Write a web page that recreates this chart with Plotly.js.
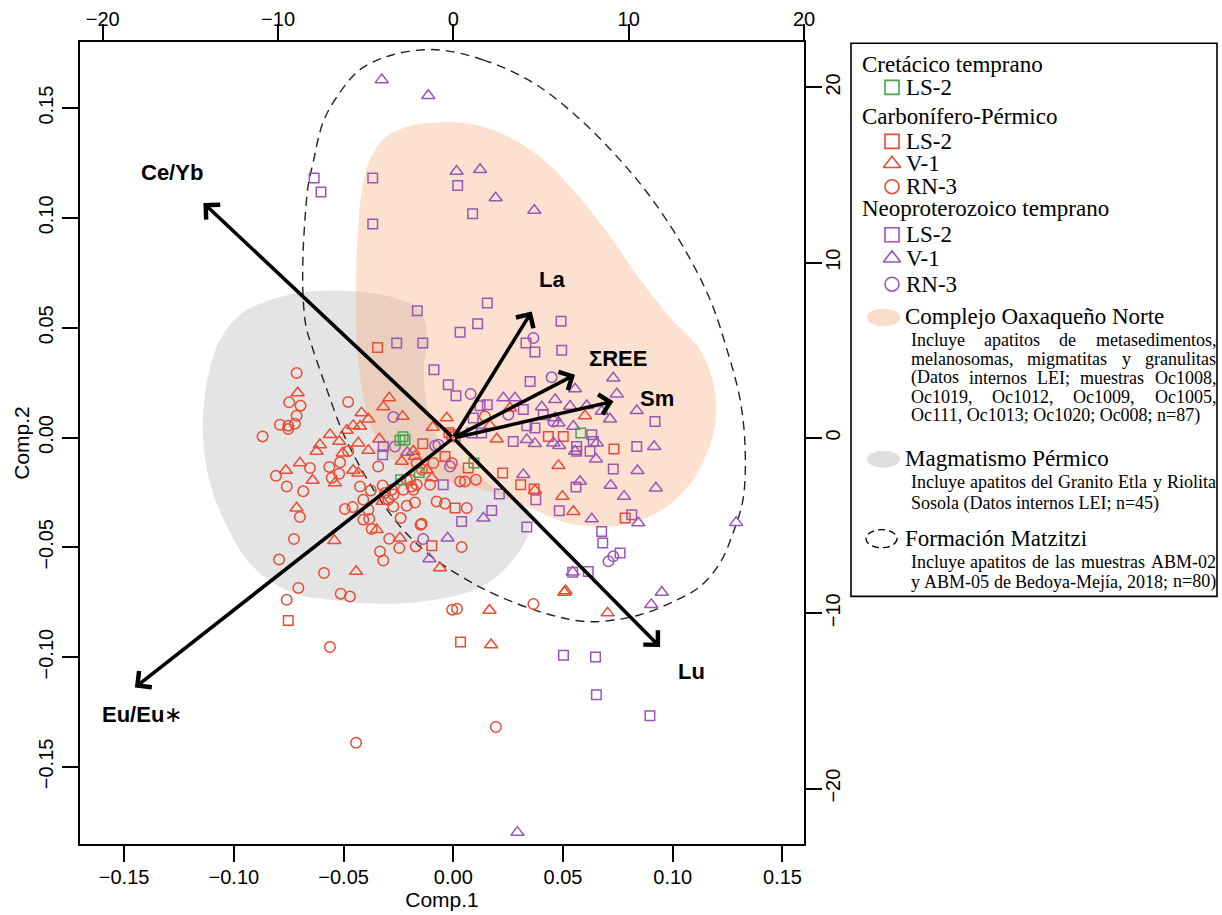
<!DOCTYPE html>
<html><head><meta charset="utf-8">
<script src="https://cdn.plot.ly/plotly-3.0.1.min.js"></script>
<style>html,body{margin:0;padding:0;background:#fff;}#chart{width:1222px;height:915px;}</style>
</head><body><div id="chart"></div>
<script>
// ---------------- DATA (scores on Comp.1 / Comp.2) ----------------
const cretLS2X = [-0.0243,-0.0220,-0.0229,-0.0240,-0.0155,0.0094,0.0581];
const cretLS2Y = [-0.0013,-0.0010,0.0004,-0.0192,-0.0159,-0.0116,0.0020];

const carbLS2X = [-0.0345,-0.0007,0.0008,-0.0020,-0.0139,0.0433,0.0501,0.0732,0.0225,0.0307,0.0368,0.0783,-0.0098,-0.0038,0.0068,0.0008,-0.0752,0.0033];
const carbLS2Y = [0.0410,0.0013,0.0004,0.0022,-0.0028,0.0005,0.0005,-0.0052,-0.0162,-0.0215,-0.0235,-0.0367,-0.0493,-0.0086,-0.0139,-0.0321,-0.0833,-0.0931];

const carbV1X = [-0.0709,-0.0418,-0.0387,-0.0456,-0.0425,-0.0486,-0.0562,-0.0520,-0.0433,-0.0387,-0.0608,-0.0623,-0.0504,-0.0292,-0.0319,-0.0231,-0.0094,-0.0337,-0.0182,-0.0235,-0.0699,-0.0763,-0.0641,-0.0539,-0.0456,-0.0433,-0.0098,-0.0121,-0.0714,-0.0322,-0.0349,-0.0243,-0.0542,-0.0443,-0.0061,0.0258,-0.0030,0.0167,0.0198,0.0600,0.0479,0.0497,0.0372,0.0547,0.0506,0.0511,0.0165,0.0703,0.0172,-0.0175];
const carbV1Y = [0.0203,0.0112,0.0084,0.0054,0.0051,0.0032,0.0013,-0.0018,-0.0025,-0.0059,-0.0033,-0.0063,-0.0071,0.0180,0.0139,0.0096,0.0046,-0.0007,-0.0063,-0.0109,-0.0116,-0.0150,-0.0195,-0.0207,-0.0150,-0.0162,-0.0184,-0.0147,-0.0321,-0.0291,-0.0420,-0.0458,-0.0469,-0.0610,-0.0594,0.0134,0.0089,0.0054,-0.0007,0.0099,-0.0128,-0.0268,-0.0241,-0.0337,-0.0705,-0.0698,-0.0787,-0.0799,-0.0944,-0.0086];

const carbRN3X = [-0.0714,-0.0748,-0.0696,-0.0714,-0.0790,-0.0752,-0.0722,-0.0752,-0.0869,-0.0479,
 -0.0479,-0.0167,-0.0516,-0.0565,-0.0653,-0.0554,-0.0520,-0.0342,-0.0808,-0.0759,
 -0.0684,-0.0425,-0.0376,-0.0322,-0.0281,-0.0212,-0.0190,-0.0167,-0.0182,-0.0228,
 -0.0273,-0.0296,-0.0311,-0.0091,-0.0410,-0.0273,-0.0212,-0.0175,-0.0494,-0.0459,
 -0.0387,-0.0410,-0.0383,-0.0699,-0.0240,-0.0144,-0.0372,-0.0292,-0.0246,-0.0171,
 -0.0726,-0.0334,-0.0319,-0.0794,-0.0589,-0.0706,-0.0513,-0.0471,-0.0759,-0.0562,
 -0.0005,0.0017,0.0365,0.0194,-0.0443,0.0144,0.0038,-0.0149,-0.0007,0.0031,
 0.0053,0.0103,-0.0076,-0.0038,0.0061,-0.0197,-0.0143,-0.0106];
const carbRN3Y = [0.0294,0.0160,0.0145,0.0099,0.0058,0.0054,0.0063,0.0039,0.0005,0.0162,
 -0.0063,-0.0116,-0.0113,-0.0134,-0.0139,-0.0184,-0.0165,-0.0132,-0.0174,-0.0223,
 -0.0245,-0.0223,-0.0241,-0.0219,-0.0238,-0.0192,-0.0223,-0.0215,-0.0238,-0.0238,
 -0.0260,-0.0283,-0.0253,-0.0116,-0.0283,-0.0314,-0.0311,-0.0296,-0.0326,-0.0317,
 -0.0329,-0.0374,-0.0371,-0.0362,-0.0367,-0.0393,-0.0417,-0.0461,-0.0503,-0.0496,
 -0.0462,-0.0519,-0.0560,-0.0556,-0.0617,-0.0685,-0.0711,-0.0724,-0.0739,-0.0954,
 -0.0784,-0.0780,-0.0758,-0.1318,-0.1390,0.0096,-0.0499,-0.0397,-0.0116,-0.0200,
 -0.0200,-0.0192,-0.0291,-0.0301,-0.0321,-0.0192,-0.0147,-0.0215];

const neoLS2X = [-0.0634,-0.0603,-0.0367,-0.0367,-0.0164,-0.0258,-0.0139,-0.0088,0.0020,0.0088,
 0.0155,0.0111,0.0031,0.0491,0.0331,0.0372,0.0494,-0.0023,0.0012,0.0350,
 0.0919,0.0155,0.0122,0.0319,0.0410,0.0091,0.0335,0.0372,0.0084,0.0129,
 0.0273,0.0631,0.0638,0.0562,0.0562,0.0623,0.0836,0.0729,0.0559,0.0376,
 0.0210,0.0483,0.0813,0.0676,0.0681,0.0760,0.0544,0.0615,0.0335,0.0175,
 0.0038,-0.0046,-0.0319,-0.0322,0.0502,0.0648,0.0652,0.0896];
const neoLS2Y = [0.1182,0.1118,0.1182,0.0972,0.0577,0.0430,0.0430,0.0309,0.1147,0.1019,
 0.0613,0.0518,0.0479,0.0529,0.0430,0.0389,0.0397,0.0240,0.0190,0.0255,
 0.0073,0.0149,0.0145,0.0127,0.0104,0.0089,0.0054,0.0043,0.0020,0.0020,
 -0.0018,0.0013,-0.0018,-0.0041,-0.0063,-0.0063,-0.0041,-0.0143,-0.0225,-0.0283,
 -0.0257,-0.0333,-0.0352,-0.0428,-0.0480,-0.0526,-0.0613,-0.0610,-0.0408,-0.0332,
 -0.0382,-0.0215,-0.0041,-0.0078,-0.0992,-0.1000,-0.1171,-0.1267];

const neoV1X = [-0.0326,-0.0114,0.0015,0.0122,0.0193,0.0369,0.0729,0.0555,0.0745,0.0228,
 0.0281,0.0464,0.0532,0.0608,0.0836,0.0403,0.0464,0.0479,0.0676,0.0714,
 0.0335,0.0372,0.0456,0.0483,0.0547,0.0654,0.0555,0.0650,0.0915,0.0839,
 0.0923,0.0717,0.0778,0.0577,0.0319,0.0631,0.0843,0.1289,0.0544,0.0950,
 0.0137,-0.0026,-0.0109,-0.0210,0.0902,0.0292];
const neoV1Y = [0.1629,0.1557,0.1212,0.1220,0.1091,0.1034,0.0271,0.0221,0.0198,0.0180,
 0.0180,0.0172,0.0142,0.0145,0.0122,0.0139,0.0089,0.0066,0.0119,0.0084,
 -0.0010,-0.0028,-0.0025,-0.0037,0.0051,-0.0025,-0.0063,-0.0098,-0.0041,-0.0151,
 -0.0230,-0.0218,-0.0268,-0.0200,-0.0169,-0.0371,-0.0389,-0.0387,-0.0613,-0.0705,
 -0.0367,-0.0458,-0.0553,-0.0068,-0.0761,-0.1798];

const neoRN3X = [0.0365,0.0079,0.0448,0.0251,0.0456,-0.0273,-0.0083,-0.0266,-0.0015,-0.0137,0.0729,0.0707,-0.0068];
const neoRN3Y = [0.0453,0.0198,0.0274,0.0104,0.0073,0.0093,-0.0037,-0.0041,-0.0132,-0.0462,-0.0541,-0.0564,-0.0033];

// reference fields (outlines, Comp.1 / Comp.2 units)
const oaxX = [-0.0061,0.0076,0.0213,0.0395,0.0546,0.0701,0.0851,0.0988,0.1124,0.1184,0.1197,0.1170,0.1093,0.0974,0.0819,0.0669,0.0518,0.0336,0.0167,-0.0061,-0.0220,-0.0311,-0.0371,-0.0407,-0.0434,-0.0443,-0.0443,-0.0434,-0.0416,-0.0380,-0.0311,-0.0197];
const oaxY = [0.1434,0.1429,0.1388,0.1279,0.1128,0.0933,0.0719,0.0546,0.0400,0.0250,0.0095,-0.0033,-0.0192,-0.0315,-0.0388,-0.0406,-0.0388,-0.0315,-0.0247,-0.0192,-0.0138,-0.0065,0.0036,0.0172,0.0354,0.0536,0.0719,0.0946,0.1128,0.1265,0.1365,0.1420];

const permX = [-0.0548,-0.0380,-0.0243,-0.0152,-0.0120,-0.0134,-0.0115,-0.0038,0.0167,0.0340,0.0340,0.0272,0.0181,0.0062,-0.0152,-0.0334,-0.0562,-0.0731,-0.0913,-0.1031,-0.1109,-0.1141,-0.1123,-0.1063,-0.0972,-0.0858,-0.0699];
const permY = [0.0668,0.0659,0.0628,0.0582,0.0468,0.0309,0.0127,-0.0056,-0.0215,-0.0329,-0.0443,-0.0556,-0.0648,-0.0707,-0.0748,-0.0757,-0.0739,-0.0707,-0.0588,-0.0406,-0.0206,0.0022,0.0250,0.0445,0.0559,0.0618,0.0659];

const matzX = [-0.0079,0.0135,0.0363,0.0564,0.0746,0.0897,0.1047,0.1170,0.1247,0.1307,0.1330,0.1320,0.1275,0.1216,0.1124,0.1020,0.0851,0.0628,0.0441,0.0213,0.0062,-0.0093,-0.0229,-0.0334,-0.0425,-0.0503,-0.0576,-0.0639,-0.0671,-0.0685,-0.0685,-0.0676,-0.0662,-0.0639,-0.0594,-0.0530,-0.0425,-0.0275];
const matzY = [0.1766,0.1720,0.1616,0.1461,0.1279,0.1097,0.0869,0.0628,0.0400,0.0172,-0.0056,-0.0283,-0.0434,-0.0570,-0.0679,-0.0739,-0.0807,-0.0839,-0.0807,-0.0725,-0.0648,-0.0547,-0.0420,-0.0283,-0.0133,0.0022,0.0218,0.0400,0.0505,0.0659,0.0823,0.0992,0.1142,0.1251,0.1434,0.1552,0.1675,0.1743];

// loadings (top / right axis units)
const loadNames = ['Ce/Yb','La','ΣREE','Sm','Lu','Eu/Eu'];
const loadX = [-14.26, 4.47, 6.94, 9.13, 11.79, -18.17];
const loadY = [13.41, 7.22, 3.61, 2.09, -11.92, -14.23];
const labelX = [-16.06, 5.61, 9.41, 11.60, 13.56, -17.76];
const labelY = [15.12, 9.03, 4.56, 2.24, -13.31, -15.80];

const ticksMain = [-0.15,-0.10,-0.05,0.00,0.05,0.10,0.15];
const ticksLoad = [-20,-10,0,10,20];

// ---------------- STYLE ----------------
const RED = '#EC4B33', PURPLE = '#9B55B6', GREEN = '#43A84B';
const SANS = 'Liberation Sans, Arial, sans-serif';
const SERIF = 'Liberation Serif, Times New Roman, serif';

function closed(a){ return a.concat([a[0]]); }
function pts(x, y, sym, color, size){
  return {type:'scatter', mode:'markers', x:x, y:y, xaxis:'x', yaxis:'y', hoverinfo:'skip',
    marker:{symbol:sym, size:size, color:color, line:{width:1.5, color:color}}};
}
const traces = [
  {type:'scatter', mode:'lines', x:closed(permX), y:closed(permY), fill:'toself',
   fillcolor:'rgba(150,150,150,0.26)', line:{width:0, shape:'spline', smoothing:1}, hoverinfo:'skip'},
  {type:'scatter', mode:'lines', x:closed(oaxX), y:closed(oaxY), fill:'toself',
   fillcolor:'rgba(248,168,118,0.34)', line:{width:0, shape:'spline', smoothing:1}, hoverinfo:'skip'},
  {type:'scatter', mode:'lines', x:closed(matzX), y:closed(matzY),
   line:{color:'#222', width:1.4, dash:'9px,6px', shape:'spline', smoothing:1}, hoverinfo:'skip'},
  pts(carbRN3X, carbRN3Y, 'circle-open', RED, 10.5),
  pts(carbV1X, carbV1Y, 'triangle-up-open', RED, 11.5),
  pts(carbLS2X, carbLS2Y, 'square-open', RED, 9.5),
  pts(neoRN3X, neoRN3Y, 'circle-open', PURPLE, 10.5),
  pts(neoV1X, neoV1Y, 'triangle-up-open', PURPLE, 11.5),
  pts(neoLS2X, neoLS2Y, 'square-open', PURPLE, 9.5),
  pts(cretLS2X, cretLS2Y, 'square-open', GREEN, 9.5)
];

// legend markers on a hidden pixel-like axis pair
const legSym = [['square-open',GREEN,87.7],['square-open',RED,141.7],['triangle-up-open',RED,164],['circle-open',RED,187],
                ['square-open',PURPLE,235],['triangle-up-open',PURPLE,258.5],['circle-open',PURPLE,284.5]];
legSym.forEach(s => traces.push({type:'scatter', mode:'markers', xaxis:'x3', yaxis:'y3', x:[892], y:[s[2]], hoverinfo:'skip',
  marker:{symbol:s[0], size: s[0]==='triangle-up-open'?15:14, color:s[1], line:{width:1.6, color:s[1]}}}));

const annotations = [];
// arrows
for (let i = 0; i < loadNames.length; i++) {
  annotations.push({xref:'x2', yref:'y2', axref:'x2', ayref:'y2', x:loadX[i], y:loadY[i], ax:0, ay:0,
    text:'', showarrow:true, arrowhead:4, arrowsize:1.1, arrowwidth:3.6, arrowcolor:'#000', standoff:0, startstandoff:0});
  const t = '<b>' + loadNames[i] + '</b>' + (loadNames[i]==='Eu/Eu' ? '∗' : '');
  annotations.push({xref:'x2', yref:'y2', x:labelX[i], y:labelY[i], text:t, showarrow:false,
    font:{family:SANS, size:22, color:'#000'}});
}

// legend texts
function legText(x, y, text, size){
  annotations.push({xref:'x3', yref:'y3', x:x, y:y, text:text, showarrow:false, xanchor:'left', yanchor:'middle',
    borderpad:0, borderwidth:0, font:{family:SERIF, size:size, color:'#000'}});
}
const HEAD = 23;
legText(862, 65, 'Cretácico temprano', HEAD);
legText(906, 88, 'LS-2', HEAD);
legText(862, 116.7, 'Carbonífero-Pérmico', HEAD);
legText(906, 141.7, 'LS-2', HEAD);
legText(906, 163.5, 'V-1', HEAD);
legText(906, 186.7, 'RN-3', HEAD);
legText(862, 208.3, 'Neoproterozoico temprano', HEAD);
legText(906, 235, 'LS-2', HEAD);
legText(906, 258.3, 'V-1', HEAD);
legText(906, 285, 'RN-3', HEAD);
legText(905, 317, 'Complejo Oaxaqueño Norte', HEAD);
legText(905, 459, 'Magmatismo Pérmico', HEAD);
legText(905, 539, 'Formación Matzitzi', HEAD);

const DSIZE = 18, DL = 910.5, DR = 1216;
const cv = document.createElement('canvas').getContext('2d');
function tw(t){ cv.font = DSIZE + 'px "Liberation Serif"'; return cv.measureText(t).width; }
function descLine(text, y, justify){
  if (!justify) { legText(DL, y, text, DSIZE); return; }
  const words = text.split(' ');
  const w = words.map(tw);
  const total = w.reduce((a,b)=>a+b, 0);
  const gap = Math.max(2.5, (DR - DL - total) / (words.length - 1));
  let x = DL;
  words.forEach((wd, i) => { legText(x, y, wd, DSIZE); x += w[i] + gap; });
}
const desc1 = ['Incluye apatitos de metasedimentos,','melanosomas, migmatitas y granulitas','(Datos internos LEI; muestras Oc1008,','Oc1019, Oc1012, Oc1009, Oc1005,','Oc111, Oc1013; Oc1020; Oc008; n=87)'];
desc1.forEach((t,i) => descLine(t, 340 + i*19, i < 4));
descLine('Incluye apatitos del Granito Etla y Riolita', 482.5, true);
descLine('Sosola (Datos internos LEI; n=45)', 503.5, false);
descLine('Incluye apatitos de las muestras ABM-02', 562.5, true);
descLine('y ABM-05 de Bedoya-Mejía, 2018; n=80)', 582, true);

const shapes = [
  {type:'rect', xref:'x3', yref:'y3', x0:851, x1:1217, y0:43.5, y1:596.7, line:{color:'#000', width:1.6}},
  {type:'circle', xref:'x3', yref:'y3', x0:867, x1:900, y0:309, y1:326.5, fillcolor:'#FBDCC8', line:{width:0}},
  {type:'circle', xref:'x3', yref:'y3', x0:867, x1:900, y0:451, y1:468, fillcolor:'#DEDEDE', line:{width:0}},
  {type:'circle', xref:'x3', yref:'y3', x0:866, x1:897, y0:530, y1:548, line:{color:'#000', width:1.3, dash:'7px,4px'}}
];

const axBase = {showline:true, linecolor:'#000', linewidth:2, ticks:'outside', ticklen:16, tickwidth:2, tickcolor:'#000',
  showgrid:false, zeroline:false, tickfont:{family:SANS, size:20, color:'#000'}, fixedrange:true};

const layout = {
  width:1222, height:915, margin:{l:80, r:4, t:42, b:71}, paper_bgcolor:'#fff', plot_bgcolor:'rgba(0,0,0,0)',
  showlegend:false, hovermode:false, font:{family:SANS, color:'#000'},
  xaxis: Object.assign({}, axBase, {domain:[0, 724/1138], range:[-0.1701, 0.1598], tickvals:ticksMain, tickformat:'.2f',
    anchor:'y', ticklabelstandoff:-2, title:{text:'Comp.1', font:{family:SANS, size:21}, standoff:2}}),
  yaxis: Object.assign({}, axBase, {domain:[0,1], range:[-0.1851, 0.1801], tickvals:ticksMain, tickformat:'.2f',
    anchor:'x', tickangle:-90, ticklabelstandoff:1, title:{text:'Comp.2', font:{family:SANS, size:21}, standoff:0}}),
  xaxis2: Object.assign({}, axBase, {overlaying:'x', side:'top', anchor:'y', range:[-21.30, 20.0], tickvals:ticksLoad, ticklabelstandoff:-10}),
  yaxis2: Object.assign({}, axBase, {overlaying:'y', side:'right', anchor:'x', range:[-23.16, 22.59], tickvals:ticksLoad, tickangle:-90, ticklabelstandoff:-6}),
  xaxis3: {domain:[0.66, 1], range:[80 + 0.66*1138, 1218], visible:false, fixedrange:true, anchor:'y3'},
  yaxis3: {domain:[0, 1], range:[844.3, 42.3], visible:false, fixedrange:true, anchor:'x3'},
  annotations: annotations, shapes: shapes
};

Plotly.newPlot('chart', traces, layout, {staticPlot:true, displayModeBar:false});
</script></body></html>
